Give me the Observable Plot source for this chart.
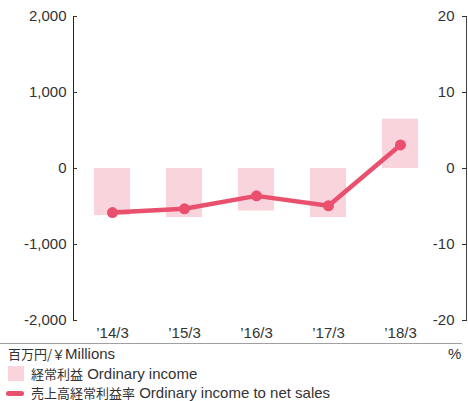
<!DOCTYPE html>
<html>
<head>
<meta charset="utf-8">
<script src="https://cdn.jsdelivr.net/npm/d3@7"></script>
<script src="https://cdn.jsdelivr.net/npm/@observablehq/plot@0.6"></script>
<style>
  body { margin: 0; background: #fff; font-family: "Liberation Sans", Arial, sans-serif; color: #333; }
  #wrap { position: relative; width: 468px; height: 401px; }
  .leg { position: absolute; font-size: 15px; white-space: nowrap; line-height: 18px; }
  .cjk { font-family: "Noto Sans CJK JP", sans-serif; font-size: 13px; }
  #rule { position: absolute; left: 0; top: 343px; width: 462px; height: 0; border-top: 1px solid #a0a0a0; }
</style>
</head>
<body>
<div id="wrap">
  <div id="chart"></div>
  <div id="rule"></div>
  <div class="leg" style="left:8px;top:345px;"><span class="cjk">百万円/￥</span>Millions</div>
  <div class="leg" style="left:448px;top:345px;">%</div>
  <div style="position:absolute;left:8px;top:366px;width:16px;height:15px;background:#fad4dd;"></div>
  <div class="leg" style="left:31px;top:365px;"><span class="cjk">経常利益</span> Ordinary income</div>
  <div style="position:absolute;left:6px;top:391px;width:18px;height:5px;border-radius:3px;background:#e9506e;"></div>
  <div class="leg" style="left:31px;top:384px;"><span class="cjk">売上高経常利益率</span> Ordinary income to net sales</div>
</div>
<script>
const years = ["’14/3", "’15/3", "’16/3", "’17/3", "’18/3"];
const ordinaryIncome = [-620, -645, -560, -645, 650];     // 百万円
const incomeRatio = [-5.8, -5.3, -3.6, -4.9, 3.1];        // %
const leftTicks = [-2000, -1000, 0, 1000, 2000];
const rightTicks = [-20, -10, 0, 10, 20];

const data = years.map((y, i) => ({year: y, income: ordinaryIncome[i], ratio: incomeRatio[i]}));
const k = 100; // % -> yen scale factor (20% ↔ 2,000)

const chart = Plot.plot({
  width: 468,
  height: 343,
  marginLeft: 73,
  marginRight: 2,
  marginTop: 16,
  marginBottom: 23,
  style: {fontFamily: "Liberation Sans, Arial, sans-serif", fontSize: "15px", color: "#333", background: "#fff"},
  x: {type: "band", domain: years, range: [73.6, 437.4], paddingInner: 0.505, paddingOuter: 0.2525, label: null},
  y: {domain: [-2000, 2000], label: null},
  marks: [
    Plot.barY(data, {x: "year", y: "income", fill: "#fad4dd"}),
    Plot.line(data, {x: "year", y: d => d.ratio * k, stroke: "#e9506e", strokeWidth: 4.5}),
    Plot.dot(data, {x: "year", y: d => d.ratio * k, r: 5.5, fill: "#e9506e"}),
    Plot.frame({anchor: "left", stroke: "#222"}),
    Plot.frame({anchor: "right", stroke: "#444"}),
    Plot.axisY({anchor: "left", ticks: leftTicks, tickFormat: d => d.toLocaleString("en-US"), tickSize: -4, tickPadding: 11, label: null, fontSize: 15}),
    Plot.axisY({anchor: "right", ticks: rightTicks.map(d => d * k), tickFormat: () => "", tickSize: -5, label: null}),
    Plot.text(rightTicks, {y: d => d * k, text: d => String(d), frameAnchor: "right", textAnchor: "end", dx: -12, fontSize: 15, fill: "#333"}),
    Plot.axisX({anchor: "bottom", tickSize: 0, tickPadding: 7, label: null, fontSize: 15})
  ]
});
document.getElementById("chart").appendChild(chart);
</script>
</body>
</html>
